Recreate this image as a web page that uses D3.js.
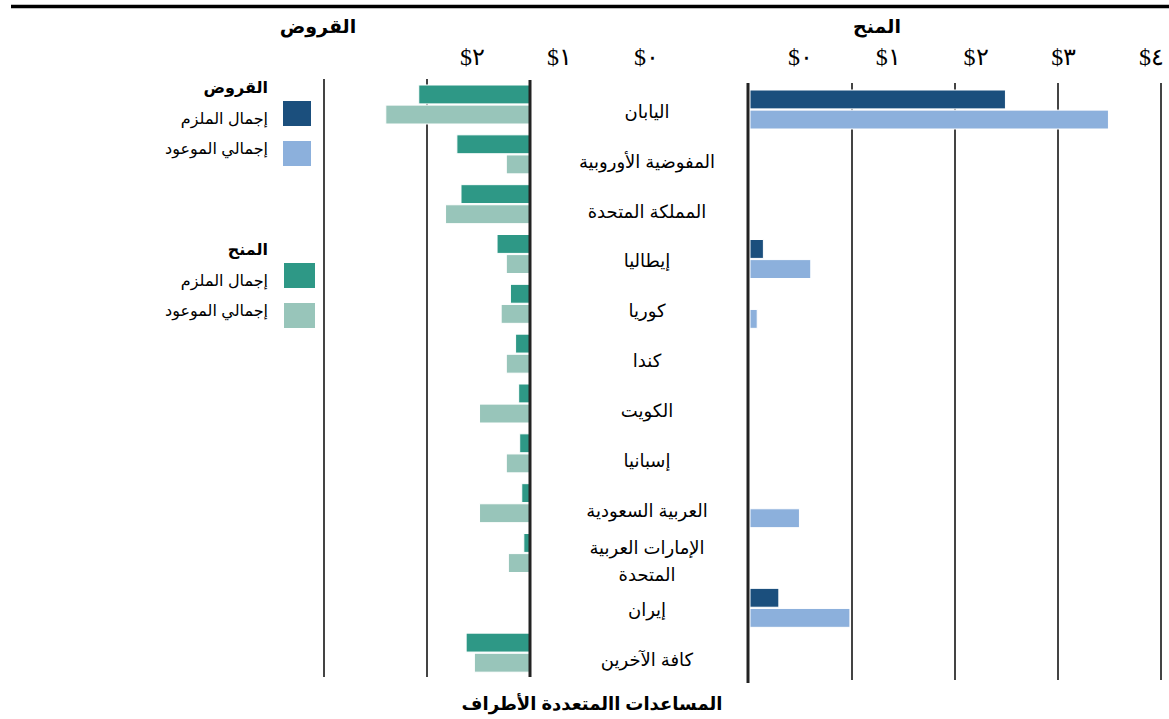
<!DOCTYPE html>
<html>
<head>
<meta charset="utf-8">
<script src="https://cdn.jsdelivr.net/npm/d3@7"></script>
<style>
  body { margin: 0; background: #fff; }
  svg { display: block; font-family: Arial, "Liberation Sans", "DejaVu Sans", sans-serif; }
  .tick text { font-family: "Times New Roman", "Liberation Serif", "DejaVu Serif", serif; }
</style>
</head>
<body>
<svg width="1169" height="719"></svg>
<script>
// values in billions of dollars
var categories = ["اليابان", "المفوضية الأوروبية", "المملكة المتحدة", "إيطاليا", "كوريا", "كندا",
  "الكويت", "إسبانيا", "العربية السعودية", "الإمارات العربية المتحدة", "إيران", "كافة الآخرين"];
var grantsCommitted = [2.48, 0, 0, 0.13, 0, 0, 0, 0, 0, 0, 0.28, 0];
var grantsDisbursed = [3.48, 0, 0, 0.59, 0.07, 0, 0, 0, 0.48, 0, 0.97, 0];
var loansCommitted = [1.08, 0.71, 0.67, 0.32, 0.19, 0.14, 0.11, 0.10, 0.08, 0.06, 0, 0.62];
var loansDisbursed = [1.40, 0.23, 0.82, 0.23, 0.28, 0.23, 0.49, 0.23, 0.49, 0.21, 0, 0.54];
var grantTicks = ["$٠", "$١", "$٢", "$٣", "$٤"];
var loanTicks = ["$٠", "$١", "$٢"];
var seriesKeys = ["committed", "disbursed"];
var legendLabels = ["إجمال الملزم", "إجمالي الموعود"];

var colors = {
  grantC: "#1b4f7d", grantD: "#8cb0dc",
  loanC: "#2e9886", loanD: "#98c5ba"
};

var svg = d3.select("svg");

// top rule
svg.append("line")
  .attr("x1", 11).attr("x2", 1169)
  .attr("y1", 6.5).attr("y2", 6.5)
  .attr("stroke", "#000").attr("stroke-width", 3.5);

var xGrant = d3.scaleLinear().domain([0, 4]).range([749, 1161]);
var xLoan = d3.scaleLinear().domain([0, 2]).range([530, 324]);
var yLeft = d3.scaleBand().domain(categories).range([78, 676]);
var yRight = d3.scaleBand().domain(categories).range([83, 681]);
var ySub = d3.scaleBand().domain(seriesKeys).range([7, 46]).paddingInner(0.06);

// tick label scales (labels sit apart from the gridlines in the original)
var grantLabelX = d3.scaleLinear().domain([0, 4]).range([800, 1151]);
var loanLabelX = d3.scaleLinear().domain([0, 2]).range([646, 472]);

function tickAxis(scale, labels) {
  return d3.axisTop(scale)
    .tickValues(d3.range(labels.length))
    .tickFormat(function (d) { return labels[d]; })
    .tickSize(0)
    .tickPadding(0);
}

[[grantLabelX, grantTicks], [loanLabelX, loanTicks]].forEach(function (a) {
  var ax = svg.append("g")
    .attr("transform", "translate(0,65)")
    .call(tickAxis(a[0], a[1]));
  ax.select(".domain").remove();
  ax.selectAll("text")
    .attr("font-size", 24)
    .attr("letter-spacing", 1)
    .attr("fill", "#000")
    .attr("dy", 0);
});

// panel titles
svg.append("text")
  .attr("x", 318).attr("y", 33)
  .attr("text-anchor", "middle")
  .attr("font-size", 19).attr("font-weight", "bold")
  .text("القروض");
svg.append("text")
  .attr("x", 877).attr("y", 33)
  .attr("text-anchor", "middle")
  .attr("font-size", 19).attr("font-weight", "bold")
  .text("المنح");

// gridlines
svg.append("g").selectAll("line")
  .data([1, 2])
  .enter().append("line")
  .attr("x1", function (d) { return xLoan(d); })
  .attr("x2", function (d) { return xLoan(d); })
  .attr("y1", 79).attr("y2", 677)
  .attr("stroke", "#444").attr("stroke-width", 2);

svg.append("g").selectAll("line")
  .data([1, 2, 3, 4])
  .enter().append("line")
  .attr("x1", function (d) { return xGrant(d); })
  .attr("x2", function (d) { return xGrant(d); })
  .attr("y1", 83).attr("y2", 680)
  .attr("stroke", "#444").attr("stroke-width", 2);

// loan bars (left, growing leftwards)
var loanRows = svg.append("g").selectAll("g")
  .data(categories)
  .enter().append("g")
  .attr("transform", function (d) { return "translate(0," + yLeft(d) + ")"; });

loanRows.selectAll("rect")
  .data(function (d, i) {
    return [
      { key: "committed", v: loansCommitted[i], c: colors.loanC },
      { key: "disbursed", v: loansDisbursed[i], c: colors.loanD }
    ].filter(function (e) { return e.v > 0; });
  })
  .enter().append("rect")
  .attr("x", function (d) { return xLoan(d.v); })
  .attr("y", function (d) { return ySub(d.key); })
  .attr("width", function (d) { return xLoan(0) - xLoan(d.v); })
  .attr("height", ySub.bandwidth())
  .attr("fill", function (d) { return d.c; })
  .attr("stroke", "#fff").attr("stroke-width", 1);

// grant bars (right)
var grantRows = svg.append("g").selectAll("g")
  .data(categories)
  .enter().append("g")
  .attr("transform", function (d) { return "translate(0," + yRight(d) + ")"; });

grantRows.selectAll("rect")
  .data(function (d, i) {
    return [
      { key: "committed", v: grantsCommitted[i], c: colors.grantC },
      { key: "disbursed", v: grantsDisbursed[i], c: colors.grantD }
    ].filter(function (e) { return e.v > 0; });
  })
  .enter().append("rect")
  .attr("x", xGrant(0) + 1)
  .attr("y", function (d) { return ySub(d.key); })
  .attr("width", function (d) { return xGrant(d.v) - xGrant(0); })
  .attr("height", ySub.bandwidth())
  .attr("fill", function (d) { return d.c; })
  .attr("stroke", "#fff").attr("stroke-width", 1);

// zero axes
svg.append("line")
  .attr("x1", xLoan(0)).attr("x2", xLoan(0))
  .attr("y1", 80).attr("y2", 677)
  .attr("stroke", "#222").attr("stroke-width", 3);
svg.append("line")
  .attr("x1", xGrant(0) - 1).attr("x2", xGrant(0) - 1)
  .attr("y1", 83).attr("y2", 683)
  .attr("stroke", "#222").attr("stroke-width", 3);

// category labels
var labels = svg.append("g").selectAll("text")
  .data(categories)
  .enter().append("text")
  .attr("x", 647)
  .attr("y", function (d) { return yLeft(d) + yLeft.bandwidth() / 2 + 15; })
  .attr("text-anchor", "middle")
  .attr("font-size", 18)
  .attr("fill", "#000");

labels.each(function (d) {
  var t = d3.select(this);
  if (d === "الإمارات العربية المتحدة") {
    t.append("tspan").attr("x", 647).attr("dy", "-0.7em").text("الإمارات العربية");
    t.append("tspan").attr("x", 647).attr("dy", "1.5em").text("المتحدة");
  } else {
    t.text(d);
  }
});

// legend
var legendGroups = [
  { title: "القروض", y: 93, colors: [colors.grantC, colors.grantD], sw: 28, sx: 283 },
  { title: "المنح", y: 255, colors: [colors.loanC, colors.loanD], sw: 31, sx: 284 }
];

legendGroups.forEach(function (g) {
  svg.append("text")
    .attr("x", 268).attr("y", g.y)
    .attr("text-anchor", "end")
    .attr("font-size", 16).attr("font-weight", "bold")
    .text(g.title);
  g.colors.forEach(function (c, i) {
    svg.append("rect")
      .attr("x", g.sx).attr("y", g.y + 8 + i * 40)
      .attr("width", g.sw).attr("height", 25)
      .attr("fill", c);
    svg.append("text")
      .attr("x", 268).attr("y", g.y + 31 + i * 30)
      .attr("text-anchor", "end")
      .attr("font-size", 16)
      .text(legendLabels[i]);
  });
});

// bottom title
svg.append("text")
  .attr("x", 592).attr("y", 710)
  .attr("text-anchor", "middle")
  .attr("font-size", 18).attr("font-weight", "bold")
  .text("المساعدات االمتعددة الأطراف");
</script>
</body>
</html>
